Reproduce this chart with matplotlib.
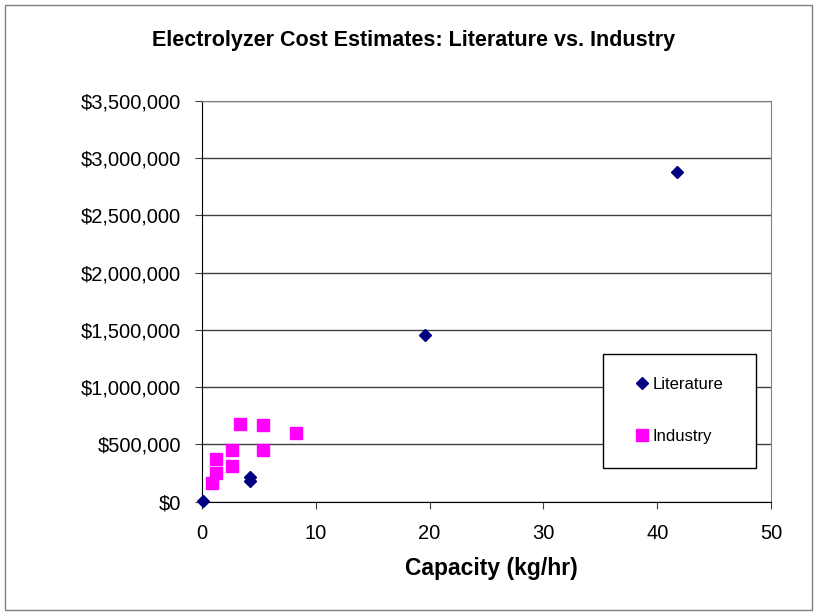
import matplotlib.pyplot as plt
from matplotlib.patches import Rectangle
from matplotlib.ticker import FuncFormatter

plt.rcParams['font.family'] = ['Liberation Sans', 'DejaVu Sans']

# Literature estimates (capacity kg/hr, cost $)
lit_x = [0.1, 4.2, 4.2, 19.6, 41.7]
lit_y = [5000, 218000, 185000, 1458000, 2880000]

# Industry quotes
ind_x = [0.9, 1.25, 1.25, 2.6, 2.6, 3.35, 5.35, 5.35, 8.25]
ind_y = [160000, 253000, 369000, 311000, 450000, 683000, 450000, 668000, 596000]

x_ticks = [0, 10, 20, 30, 40, 50]
y_ticks = [0, 500000, 1000000, 1500000, 2000000, 2500000, 3000000, 3500000]

W, H = 817, 614
fig = plt.figure(figsize=(W / 100, H / 100), dpi=100)
fig.patches.append(Rectangle((5 / W, 4 / H), 807 / W, 605 / H, transform=fig.transFigure,
                             fill=False, edgecolor='#808080', linewidth=1))

ax = fig.add_axes([202 / W, (H - 501.7) / H, (771 - 202) / W, (501.7 - 101) / H])
ax.set_xlim(0, 50)
ax.set_ylim(0, 3500000)
ax.set_xticks(x_ticks)
ax.set_yticks(y_ticks)
ax.yaxis.set_major_formatter(FuncFormatter(lambda v, p: "${:,.0f}".format(v)))
ax.grid(axis='y', color='#404040', linewidth=1)
ax.set_axisbelow(True)
for s in ['top', 'right']:
    ax.spines[s].set_color('#808080')
ax.spines['left'].set_color('black')
ax.spines['bottom'].set_color('black')
ax.tick_params(direction='out', length=5, labelsize=14.5, color='#404040')
ax.tick_params(axis='x', pad=11)
ax.tick_params(axis='y', pad=10)

ax.plot(ind_x, ind_y, linestyle='none', marker='s', markersize=8.4, color='#FF00FF',
        label='Industry', clip_on=False, zorder=3)
ax.plot(lit_x, lit_y, linestyle='none', marker='D', markersize=6.5, color='#000080',
        label='Literature', clip_on=False, zorder=4)

fig.text(414 / W, 1 - 46 / H, 'Electrolyzer Cost Estimates: Literature vs. Industry',
         ha='center', va='baseline', fontsize=15.5, fontweight='bold')
fig.text(491 / W, 1 - 575 / H, 'Capacity (kg/hr)', ha='center', va='baseline',
         fontsize=16.5, fontweight='bold')

# legend box
fig.patches.append(Rectangle((603.3 / W, (H - 468.3) / H), 152.4 / W, 114.3 / H,
                             transform=fig.transFigure, fill=True, facecolor='white',
                             edgecolor='black', linewidth=1, zorder=5))
h, l = ax.get_legend_handles_labels()
leg = fig.legend(h[::-1], l[::-1], loc='center left',
                 bbox_to_anchor=(633.3 / W, (H - 410.5) / H),
                 frameon=False, fontsize=12, labelspacing=2.25,
                 handletextpad=0.16, handlelength=1.0, borderpad=0, borderaxespad=0)
leg.set_zorder(6)

fig.savefig('out.png', dpi=100)
